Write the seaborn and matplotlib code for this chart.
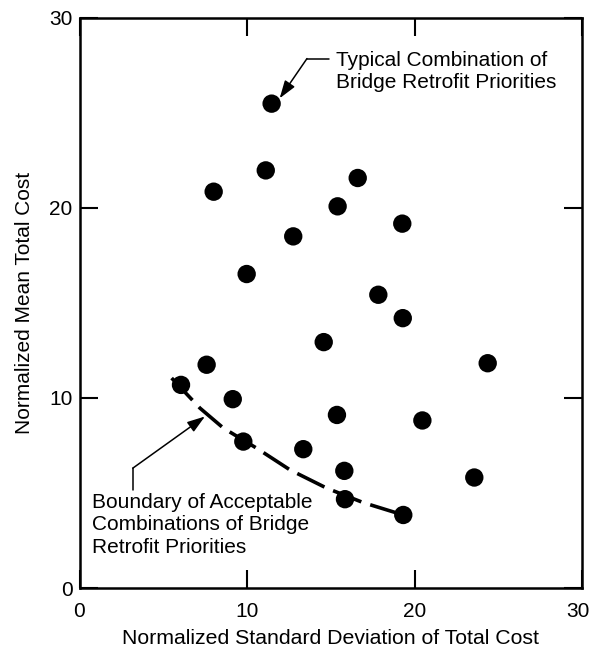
import matplotlib
matplotlib.use("Agg")
import matplotlib.pyplot as plt
import matplotlib.transforms as mtransforms
import seaborn as sns
import pandas as pd

# Normalized standard deviation / mean of total cost for each combination
std_dev = [11.47, 11.12, 8.01, 16.61, 15.41, 19.27, 12.76, 9.98, 17.84, 19.30,
           14.58, 7.59, 24.37, 6.06, 9.15, 15.37, 20.47, 9.78, 13.36, 15.81,
           23.57, 15.85, 19.33]
mean_cost = [25.47, 21.96, 20.84, 21.56, 20.07, 19.16, 18.49, 16.51, 15.42, 14.19,
             12.93, 11.74, 11.82, 10.68, 9.93, 9.10, 8.81, 7.70, 7.30, 6.16,
             5.81, 4.67, 3.84]

# Boundary of acceptable combinations
boundary_std = [5.50, 7.19, 8.59, 10.58, 12.57, 14.76, 16.94, 19.33]
boundary_mean = [11.04, 9.46, 8.41, 7.35, 6.21, 5.25, 4.49, 3.84]

ticks = [0, 10, 20, 30]

sns.set_style("ticks")
plt.rcParams["font.family"] = ["Liberation Sans", "DejaVu Sans"]
plt.rcParams["text.color"] = "black"
plt.rcParams["axes.labelcolor"] = "black"
FS = 15

points = pd.DataFrame({"std": std_dev, "mean": mean_cost})
boundary = pd.DataFrame({"std": boundary_std, "mean": boundary_mean})

fig = plt.figure(figsize=(5.92, 6.47), dpi=100)
ax = fig.add_axes([79.5 / 592, 1 - 588 / 647, (582 - 79.5) / 592, (588 - 17.5) / 647])

sns.lineplot(data=boundary, x="std", y="mean", ax=ax, sort=False, estimator=None,
             color="black", lw=2.6, linestyle=(0, (8.4, 2.6)), zorder=2)
sns.scatterplot(data=points, x="std", y="mean", ax=ax, s=175, color="black",
                edgecolor="none", linewidth=0, zorder=3)

ax.set_xlim(0, 30)
ax.set_ylim(0, 30)
ax.set_xticks(ticks)
ax.set_yticks(ticks)
ax.set_xticklabels([str(t) for t in ticks], fontsize=FS)
ax.set_yticklabels([str(t) for t in ticks], fontsize=FS)
ax.tick_params(direction="in", top=True, right=True, length=13, width=1.5,
               colors="black")
ax.tick_params(axis="x", pad=10)
ax.tick_params(axis="y", pad=5)
for sp in ax.spines.values():
    sp.set_visible(True)
    sp.set_linewidth(1.8)
    sp.set_color("black")

# keep the last x tick label inside the figure edge
last = ax.get_xticklabels()[-1]
last.set_transform(last.get_transform() +
                   mtransforms.ScaledTranslation(-3 / 72, 0, fig.dpi_scale_trans))

ax.set_xlabel("Normalized Standard Deviation of Total Cost", fontsize=FS + 0.3, labelpad=6)
ax.set_ylabel("Normalized Mean Total Cost", fontsize=FS, labelpad=11)

arrow = dict(arrowstyle="-|>,head_length=0.9,head_width=0.3", color="black",
             lw=1.1, shrinkA=0, shrinkB=0, mutation_scale=12)

# Callout for a typical combination
ax.plot([14.9, 13.58], [27.84, 27.84], color="black", lw=1.1)
ax.annotate("", xy=(11.95, 25.75), xytext=(13.58, 27.84), arrowprops=arrow)
ax.text(15.3, 27.15, "Typical Combination of\nBridge Retrofit Priorities",
        fontsize=FS, ha="left", va="center", linespacing=1.22)

# Callout for the boundary curve
ax.plot([3.18, 3.18], [5.16, 6.30], color="black", lw=1.1)
ax.annotate("", xy=(7.49, 9.02), xytext=(3.18, 6.30), arrowprops=arrow)
ax.text(0.73, 5.0, "Boundary of Acceptable\nCombinations of Bridge\nRetrofit Priorities",
        fontsize=FS, ha="left", va="top", linespacing=1.22)

fig.savefig("out.png", dpi=100)
